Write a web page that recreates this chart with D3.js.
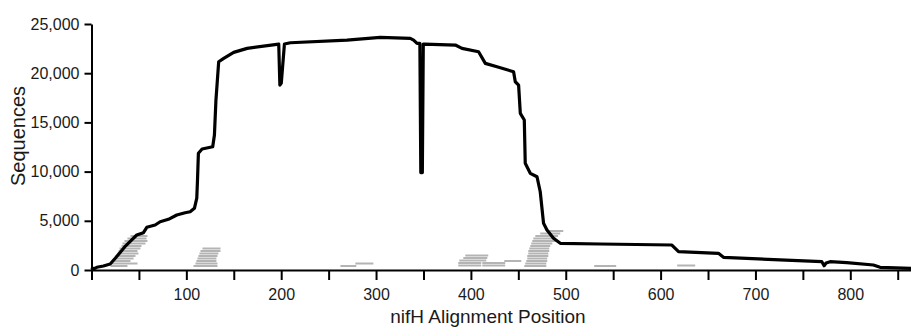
<!DOCTYPE html>
<html>
<head>
<meta charset="utf-8">
<script src="https://cdn.jsdelivr.net/npm/d3@7"></script>
<style>
  body { margin: 0; background: #fff; }
  svg { display: block; font-family: "Liberation Sans", Arial, sans-serif; }
</style>
</head>
<body>
<svg width="911" height="328"></svg>
<script>
// coverage curve: alignment position / sequence count
const positions = [0, 2.1, 5.6, 12.6, 19.7, 25.3, 30.6, 35.8, 41.1, 47.7, 54.8, 58.3, 67.1, 72.4, 81.1, 89.9, 98.7, 104, 108.5, 111, 111.7, 112.7, 116.6, 127.8, 129.6, 131.2, 134.1, 139.4, 149.9, 164.1, 197.4, 198.6, 200.1, 203.4, 209.7, 269.4, 304.5, 336.1, 339.6, 343.2, 346.2, 347.2, 348.8, 349.8, 350.9, 383.6, 390.6, 408.1, 415.2, 427.5, 445, 446.8, 450.3, 452.1, 456.3, 457.3, 462.6, 469.7, 473.1, 476.6, 480.2, 487.1, 494.2, 536.4, 611.9, 618.9, 661, 666.3, 770, 772.4, 774.5, 778.7, 796.3, 824.3, 831.4, 864];
const sequences = [300, 100, 274, 406, 610, 1219, 1829, 2438, 2946, 3556, 3790, 4338, 4572, 4907, 5151, 5588, 5822, 5923, 6269, 7315, 9000, 11857, 12294, 12527, 13716, 17272, 21163, 21509, 22119, 22525, 22962, 18796, 19000, 22962, 23094, 23368, 23642, 23540, 23368, 23033, 23033, 9900, 9900, 22962, 22962, 22860, 22525, 22180, 21000, 20655, 20147, 19131, 18796, 15920, 15240, 10841, 9825, 9479, 7955, 4745, 4064, 3221, 2713, 2642, 2540, 1859, 1697, 1290, 843, 437, 711, 843, 742, 508, 274, 173];

// grey read segments: start, end, level
const segStart = [20.0, 21.1, 23.2, 24.2, 25.3, 27.4, 28.5, 29.5, 31.6, 32.7, 34.8, 37.9, 41.1,
  107.5, 109.6, 110.6, 111.7, 112.7, 113.8, 114.9, 117.0,
  262.4, 278.2,
  386.7, 386.7, 387.8, 392.0, 394.1, 412.0, 412.0, 435.2,
  456.3, 457.3, 458.4, 459.4, 459.4, 460.5, 460.5, 461.5, 462.6, 463.6, 464.7, 465.8, 467.9, 473.1, 479.5,
  530.0, 617.5];
const segEnd = [37.9, 48.5, 41.1, 44.3, 46.4, 49.5, 48.5, 51.6, 52.7, 56.9, 59.0, 58.0, 59.0,
  132.8, 132.8, 131.7, 131.7, 132.8, 133.8, 136.0, 136.0,
  279.2, 297.2,
  410.9, 410.9, 416.2, 417.3, 418.3, 436.2, 436.2, 453.1,
  479.5, 479.5, 480.5, 480.5, 481.6, 481.6, 482.6, 482.6, 483.7, 485.8, 491.9, 489.5, 491.9, 494.2, 497.4,
  553.2, 636.5];
const segLevel = [406, 660, 914, 1168, 1422, 1676, 1930, 2184, 2438, 2692, 2946, 3200, 3454,
  406, 660, 914, 1168, 1422, 1676, 1930, 2184,
  406, 660,
  457, 711, 965, 1219, 1473, 457, 711, 914,
  406, 660, 914, 1168, 1422, 1676, 1930, 2184, 2438, 2692, 2946, 3200, 3454, 3708, 3962,
  406, 457];

const yTicks = [0, 5000, 10000, 15000, 20000, 25000];
const xTicks = d3.range(0, 851, 50);

const svg = d3.select("svg"),
  x = d3.scaleLinear().domain([0, 864]).range([91.5, 911]),
  y = d3.scaleLinear().domain([0, 25000]).range([270, 24]);

// grey segments
svg.append("g")
  .selectAll("line")
  .data(segLevel)
  .enter()
  .append("line")
  .attr("x1", (d, i) => x(segStart[i]))
  .attr("x2", (d, i) => x(segEnd[i]))
  .attr("y1", d => y(d))
  .attr("y2", d => y(d))
  .style("stroke", "#b4b4b4")
  .style("stroke-width", 2);

// coverage line
const line = d3.line()
  .x((d, i) => x(positions[i]))
  .y(d => y(d));

svg.append("path")
  .datum(sequences)
  .attr("d", line)
  .style("fill", "none")
  .style("stroke", "#000")
  .style("stroke-width", 3.2)
  .style("stroke-linejoin", "round");

// axes
const yAxis = svg.append("g")
  .attr("transform", `translate(${x(0)},0)`)
  .call(d3.axisLeft(y).tickValues(yTicks).tickSize(7).tickPadding(5)
    .tickSizeOuter(0).tickFormat(d3.format(",")));

const xAxis = svg.append("g")
  .attr("transform", `translate(0,${y(0)})`)
  .call(d3.axisBottom(x).tickValues(xTicks).tickSize(10).tickPadding(9)
    .tickSizeOuter(0).tickFormat(d => (d % 100 === 0 && d > 0 ? d : "")));

[yAxis, xAxis].forEach(a => {
  a.select(".domain").style("stroke", "#000").style("stroke-width", 2);
  a.selectAll(".tick line").style("stroke", "#000").style("stroke-width", 2);
  a.selectAll("text")
    .style("font-size", "16px")
    .style("fill", "#1a1a1a")
    .style("font-family", "'Liberation Sans', Arial, sans-serif");
});

svg.append("text")
  .attr("x", 488)
  .attr("y", 323)
  .attr("text-anchor", "middle")
  .style("font-size", "19px")
  .style("fill", "#1a1a1a")
  .text("nifH Alignment Position");

svg.append("text")
  .attr("transform", "translate(25,136) rotate(-90)")
  .attr("text-anchor", "middle")
  .style("font-size", "20px")
  .style("fill", "#1a1a1a")
  .text("Sequences");
</script>
</body>
</html>
